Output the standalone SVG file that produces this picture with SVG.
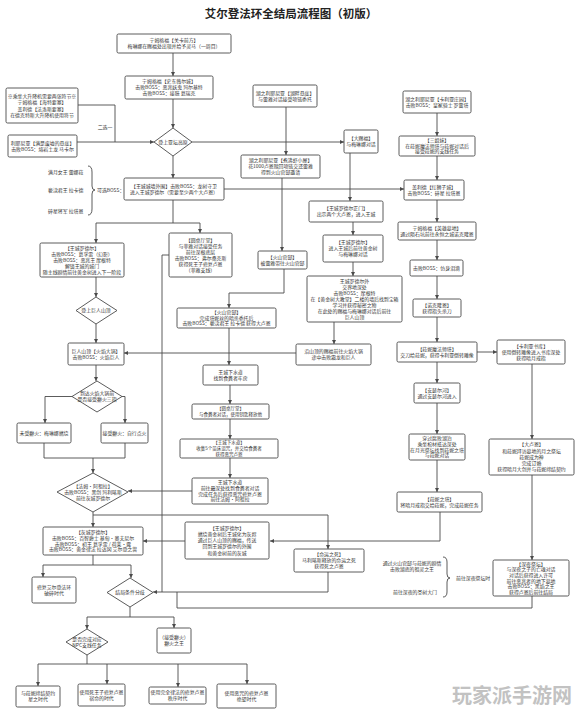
<svg xmlns="http://www.w3.org/2000/svg" width="580" height="714" viewBox="0 0 580 714">
<style>
text{font-family:"Noto Sans CJK SC","Noto Sans",sans-serif;font-size:4.9px;fill:#333;text-anchor:middle}
.n rect,.n polygon{fill:#fff;stroke:#4a4a4a;stroke-width:0.9}
#connectors path{fill:none;stroke:#4a4a4a;stroke-width:0.9}
.ar{marker-end:url(#a)}
.l{text-anchor:start}
.s{font-size:4.5px}
.title{font-size:11.5px;font-weight:bold;fill:#222}
.wm{font-size:20px;font-weight:bold;fill:#c2c2c2}
</style>
<defs>
<marker id="a" viewBox="0 0 10 10" refX="10" refY="5" markerWidth="4" markerHeight="4" markerUnits="userSpaceOnUse" orient="auto"><path d="M0,0 L10,5 L0,10 z" fill="#4a4a4a"/></marker>
</defs>
<rect width="580" height="714" fill="#fff"/>
<text class="title" x="291" y="17.5">艾尔登法环全结局流程图（初版）</text>

<g id="connectors">
<path class="ar" d="M173,53 V76"/>
<path class="ar" d="M173,99 V128"/>
<path d="M78,105 H115 V142"/>
<path class="ar" d="M77,142 H154"/>
<path class="ar" d="M192,142 H344"/>
<path class="ar" d="M173,156 V178"/>
<path class="ar" d="M224,189 H404"/>
<path d="M173,200 V223 M96,223 H200"/>
<path class="ar" d="M96,223 V243"/>
<path class="ar" d="M200,223 V233"/>
<path class="ar" d="M286,107 V155"/>
<path class="ar" d="M282,178 V251"/>
<path class="ar" d="M284,269 V293 H229 V308"/>
<path class="ar" d="M350,153 V201"/>
<path class="ar" d="M353,222 V235"/>
<path class="ar" d="M353,262 V276"/>
<path class="ar" d="M334,322 V344"/>
<path class="ar" d="M296,353 H124"/>
<path d="M169,255 H162 V592"/>
<path class="ar" d="M328,572 V592 H153"/>
<path d="M532,596 V608 H177 V592"/>
<path class="ar" d="M229,328 V365"/>
<path class="ar" d="M230,385 V404"/>
<path class="ar" d="M230,419 V439"/>
<path class="ar" d="M230,458 V478"/>
<path class="ar" d="M192,491 H128"/>
<path class="ar" d="M96,277 V297"/>
<path class="ar" d="M96,324 V343"/>
<path class="ar" d="M96,365 V381"/>
<path class="ar" d="M72,396.5 H45 V423"/>
<path class="ar" d="M122,396.5 H125 V423"/>
<path d="M44,443 V458 H125 V443"/>
<path class="ar" d="M93,458 V473"/>
<path class="ar" d="M93,512 V527"/>
<path class="ar" d="M93,515 H328 V549"/>
<path class="ar" d="M440,512 V541 H270"/>
<path class="ar" d="M185,541 H143"/>
<path d="M93,555 V565 M43,565 H131"/>
<path class="ar" d="M43,565 V577"/>
<path class="ar" d="M131,565 V578"/>
<path d="M130,607 V617 M87,617 H174"/>
<path class="ar" d="M87,617 V629"/>
<path class="ar" d="M174,617 V628"/>
<path d="M87,655 V664 M38,664 H247"/>
<path class="ar" d="M38,664 V686"/>
<path class="ar" d="M107,664 V684"/>
<path class="ar" d="M178,664 V687"/>
<path class="ar" d="M247,664 V684"/>
<path class="ar" d="M437,113 V136"/>
<path class="ar" d="M437,156 V180"/>
<path class="ar" d="M437,200 V222"/>
<path class="ar" d="M437,240 V260"/>
<path class="ar" d="M437,276 V299"/>
<path class="ar" d="M437,317 V342"/>
<path class="ar" d="M477,352 H497"/>
<path class="ar" d="M437,362 V383"/>
<path class="ar" d="M437,403 V434"/>
<path class="ar" d="M437,460 V492"/>
<path class="ar" d="M532,364 V439"/>
<path class="ar" d="M532,475 V560"/>
<path d="M88,166 Q92,166 92,172 L92,186 Q92,190 95,190 Q92,190 92,194 L92,209 Q92,215 88,215"/>
<path d="M443,557 Q447,557 447,562 L447,574 Q447,578 450,578 Q447,578 447,582 L447,592 Q447,597 443,597"/>
</g>

<g id="labels">
<text x="105" y="129">二选一</text>
<text class="l" x="48" y="174">满月女王 蕾娜菈</text>
<text class="l" x="48" y="192">亵渎君王 拉卡德</text>
<text class="l" x="48" y="213">碎星将军 拉塔恩</text>
<text class="l" x="97" y="192">可选BOSS：</text>
<text x="412" y="565">通过火山官邸与菈妮的剧情</text>
<text x="412" y="571">击败湖底的祖灵之王</text>
<text x="415" y="594">前往深夜的圣树大门</text>
<text class="l" x="456" y="580">前往深夜祭坛时</text>
</g>

<g id="nA" class="n"><rect x="117" y="34" width="114" height="19" rx="1.5"/>
<text x="174" y="42.1">宁姆格福【关卡前方】</text><text x="174" y="48.3">梅琳娜在赐福处出现并给予灵马（一周目）</text></g>
<g id="nB" class="n"><rect x="125" y="76" width="88" height="23" rx="1.5"/>
<text x="169" y="83.2">宁姆格福【史东薇尔城】</text><text x="169" y="89.2">击败BOSS：恶兆妖鬼 玛尔基特</text><text x="169" y="95.2">击败BOSS：接肢 葛瑞克</text></g>
<g id="nC" class="n"><polygon points="173,128 192,142 173,156 154,142"/>
<text x="173" y="143.7">登上亚坛高原</text></g>
<g id="nD" class="n"><rect x="6" y="88" width="72" height="35" rx="1.5"/>
<text x="42" y="97.5">※乘坐大升降机需要两张符节※</text><text x="42" y="104">宁姆格福【海特要塞】</text><text x="42" y="110.5">盖利德【法洛斯要塞】</text><text x="42" y="117">在德克特斯大升降机使用符节</text></g>
<g id="nE" class="n"><rect x="8" y="135" width="69" height="22" rx="1.5"/>
<text x="42.5" y="144.6">利耶尼亚【满是废墟的悬崖】</text><text x="42.5" y="150.8">击败BOSS：熔岩土龙 马卡尔</text></g>
<g id="nF" class="n"><rect x="124" y="178" width="100" height="22" rx="1.5"/>
<text x="174" y="187.6">【王城城墙外围】击败BOSS：龙树守卫</text><text x="174" y="193.8">进入王城罗德尔（需要至少两个大卢恩）</text></g>
<g id="nG" class="n"><rect x="40" y="243" width="84" height="34" rx="1.5"/>
<text x="82" y="249.7">【王城罗德尔】</text><text x="82" y="255.7">击败BOSS：葛孚雷（幻影）</text><text x="82" y="261.7">击败BOSS：恶兆王 摩根特</text><text x="82" y="267.7">解锁王城的城门</text><text x="82" y="273.7">随主线剧情前往黄金树进入下一阶段</text></g>
<g id="nH" class="n"><polygon points="96,297 117,310.5 96,324 76,310.5"/>
<text x="96" y="312.2">登上巨人山顶</text></g>
<g id="nI" class="n"><rect x="68" y="343" width="56" height="22" rx="1.5"/>
<text x="96" y="352.6">巨人山顶【火焰大锅】</text><text x="96" y="358.8">击败BOSS：火焰巨人</text></g>
<g id="nJ" class="n"><polygon points="97,381 122,396.5 97,412 72,396.5"/>
<text x="97" y="395.2">到达火焰大锅前</text><text x="97" y="401.2">是否接受癫火三指</text></g>
<g id="nK" class="n"><rect x="17" y="423" width="54" height="20" rx="1.5"/>
<text x="44" y="434.7">未受癫火：梅琳娜燃烧</text></g>
<g id="nL" class="n"><rect x="101" y="423" width="47" height="20" rx="1.5"/>
<text x="124.5" y="434.7">接受癫火：自行点火</text></g>
<g id="nM" class="n"><polygon points="93,473 128,492 93,512 57,492"/>
<text x="93" y="487.9">【法姆·阿祖拉】</text><text x="93" y="493.7">击败BOSS：黑剑 玛利喀斯</text><text x="93" y="499.5">前往灰城罗德尔</text></g>
<g id="nN" class="n"><rect x="43" y="527" width="100" height="28" rx="1.5"/>
<text x="93" y="534">【灰城罗德尔】</text><text x="93" y="539.8">击败BOSS：百智爵士 基甸·奥夫尼尔</text><text x="93" y="545.6">击败BOSS：初王 葛孚雷 / 荷莱·露</text><text x="93" y="551.4">击败BOSS：黄金律法 拉达冈 艾尔登之兽</text></g>
<g id="nS" class="n"><rect x="32" y="577" width="44" height="26" rx="1.5"/>
<text x="54" y="588.6">修复艾尔登法环</text><text x="54" y="594.8">破碎时代</text></g>
<g id="nQ" class="n"><polygon points="130,578 153,592.5 130,607 107,592.5"/>
<text x="130" y="594.2">结局条件分歧</text></g>
<g id="nT" class="n"><polygon points="87,629 108,642 87,655 66,642"/>
<text x="87" y="640.9">是否完成对应</text><text x="87" y="646.5">NPC支线任务</text></g>
<g id="nU" class="n"><rect x="157" y="628" width="34" height="25" rx="1.5"/>
<text x="174" y="639.1">（接受癫火）</text><text x="174" y="645.3">癫火之王</text></g>
<g id="nV1" class="n"><rect x="16" y="686" width="44" height="21" rx="1.5"/>
<text x="38" y="695.1">与菈妮缔结契约</text><text x="38" y="701.3">星之时代</text></g>
<g id="nV2" class="n"><rect x="78" y="684" width="47" height="22" rx="1.5"/>
<text x="101.5" y="693.6">使用死王子修复卢恩</text><text x="101.5" y="699.8">宿命的时代</text></g>
<g id="nV3" class="n"><rect x="149" y="687" width="57" height="17" rx="1.5"/>
<text x="177.5" y="694.1">使用完全律法的修复卢恩</text><text x="177.5" y="700.3">秩序时代</text></g>
<g id="nV4" class="n"><rect x="217" y="684" width="59" height="24" rx="1.5"/>
<text x="246.5" y="694.6">使用恶咒的修复卢恩</text><text x="246.5" y="700.8">绝望时代</text></g>

<g id="nX1" class="n"><rect x="253" y="85" width="64" height="22" rx="1.5"/>
<text x="285" y="94.6">湖之利耶尼亚【湖畔悬崖】</text><text x="285" y="100.8">与蕾雅对话接受项链委托</text></g>
<g id="nX2" class="n"><rect x="241" y="155" width="79" height="23" rx="1.5"/>
<text x="280.5" y="162.2">湖之利耶尼亚【煮沸虾小屋】</text><text x="280.5" y="168.2">花1000卢恩赎回项链交还蕾雅</text><text x="280.5" y="174.2">得到火山官邸邀请</text></g>
<g id="nX3" class="n"><rect x="344" y="130" width="34" height="23" rx="1.5"/>
<text x="361" y="140.1">【大赐福】</text><text x="361" y="146.3">与梅琳娜对话</text></g>
<g id="nZ2" class="n"><rect x="258" y="251" width="49" height="18" rx="1.5"/>
<text x="282.5" y="258.6">【火山官邸】</text><text x="282.5" y="264.8">被蕾雅带往火山官邸</text></g>
<g id="nZ3" class="n"><rect x="169" y="233" width="63" height="44" rx="1.5"/>
<text x="200.5" y="241.7">【圆桌厅堂】</text><text x="200.5" y="247.7">与菲雅对话接受任务</text><text x="200.5" y="253.7">前往深根底层</text><text x="200.5" y="259.7">击败BOSS：弗尔桑克斯</text><text x="200.5" y="265.7">获得死王子修复卢恩</text><text x="200.5" y="271.7">（菲雅支线）</text></g>
<g id="nZ1" class="n"><rect x="177" y="308" width="99" height="20" rx="1.5"/>
<text x="226.5" y="314.1">【火山官邸】</text><text x="226.5" y="319.7">完成塔妮丝的暗杀委托后</text><text x="226.5" y="325.3">击败BOSS：亵渎君王 拉卡德 获得大卢恩</text></g>
<g id="nY1" class="n"><rect x="309" y="201" width="74" height="21" rx="1.5"/>
<text x="346" y="210.1">【王城罗德尔正门】</text><text x="346" y="216.3">出示两个大卢恩，进入王城</text></g>
<g id="nY2" class="n"><rect x="323" y="235" width="60" height="27" rx="1.5"/>
<text x="353" y="244.2">【王城罗德尔】</text><text x="353" y="250.2">进入王城后前往黄金树</text><text x="353" y="256.2">与梅琳娜对话</text></g>
<g id="nY3" class="n"><rect x="307" y="276" width="95" height="46" rx="1.5"/>
<text x="354.5" y="282.7">王城罗德尔外</text><text x="354.5" y="288.7">交界地深处</text><text x="354.5" y="294.7">击败BOSS：摩根特</text><text x="354.5" y="300.7">在【黄金树大教堂】二楼的墙后找到宝箱</text><text x="354.5" y="306.7">学习并获得秘密之物</text><text x="354.5" y="312.7">在此处的赐福与梅琳娜对话后前往</text><text x="354.5" y="318.7">巨人山顶</text></g>
<g id="nY4" class="n"><rect x="296" y="344" width="75" height="21" rx="1.5"/>
<text x="333.5" y="353.1">沿山顶的赐福前往火焰大锅</text><text x="333.5" y="359.3">途中击败霜龙和巨人</text></g>
<g id="nAA1" class="n"><rect x="203" y="365" width="55" height="20" rx="1.5"/>
<text x="230.5" y="373.6">王城下水道</text><text x="230.5" y="379.8">找到食粪者牢房</text></g>
<g id="nAA2" class="n"><rect x="192" y="404" width="77" height="15" rx="1.5"/>
<text class="s" x="230.5" y="410.3">【圆桌厅堂】</text><text class="s" x="230.5" y="416.1">与食粪者对话，使用钥匙释放他</text></g>
<g id="nAA3" class="n"><rect x="180" y="439" width="98" height="19" rx="1.5"/>
<text class="s" x="229" y="444.4">【王城下水道】</text><text class="s" x="229" y="450.2">收集5个苗床诅咒，并交给食粪者</text><text class="s" x="229" y="456">获得恶咒卢恩</text></g>
<g id="nAA4" class="n"><rect x="192" y="478" width="76" height="26" rx="1.5"/>
<text x="230" y="484">王城下水道</text><text x="230" y="489.8">前往最深处找到食粪者对话</text><text x="230" y="495.6">完成任务后获得恶咒修复卢恩</text><text x="230" y="501.4">前往法姆·阿祖拉</text></g>
<g id="nO" class="n"><rect x="185" y="522" width="84" height="37" rx="1.5"/>
<text x="227" y="529.8">【王城罗德尔】</text><text x="227" y="536">燃烧黄金树后王城化为灰烬</text><text x="227" y="542.2">通过巨人山顶的赐福，传送</text><text x="227" y="548.4">回到王城罗德尔的外围</text><text x="227" y="554.6">和黄金树前的灰城</text></g>
<g id="nP" class="n"><rect x="294" y="549" width="70" height="23" rx="1.5"/>
<text x="329" y="556.2">【命运之死】</text><text x="329" y="562.2">马利喀斯释放的命运之死</text><text x="329" y="568.2">获得死之卢恩</text></g>

<g id="nR1" class="n"><rect x="403" y="91" width="68" height="22" rx="1.5"/>
<text x="437" y="100.6">湖之利耶尼亚【卡利亚庄园】</text><text x="437" y="106.8">击败BOSS：皇家骑士 罗蕾塔</text></g>
<g id="nR2" class="n"><rect x="399" y="136" width="76" height="20" rx="1.5"/>
<text x="437" y="142.1">【三姐妹】</text><text x="437" y="147.7">在菈妮魔法师塔与菈妮对话后</text><text x="437" y="153.3">接受菈妮的支线任务</text></g>
<g id="nR3" class="n"><rect x="404" y="180" width="60" height="20" rx="1.5"/>
<text x="434" y="188.6">盖利德【红狮子城】</text><text x="434" y="194.8">击败BOSS：碎星 拉塔恩</text></g>
<g id="nR4" class="n"><rect x="398" y="222" width="78" height="18" rx="1.5"/>
<text x="437" y="229.6">宁姆格福【英雄墓地】</text><text x="437" y="235.8">通过陨石坑前往永恒之城诺克隆恩</text></g>
<g id="nR5" class="n"><rect x="410" y="260" width="53" height="16" rx="1.5"/>
<text x="436.5" y="269.7">击败BOSS：仿身泪滴</text></g>
<g id="nR6" class="n"><rect x="413" y="299" width="48" height="18" rx="1.5"/>
<text x="437" y="306.6">【诺克隆恩】</text><text x="437" y="312.8">获得指头杀刀</text></g>
<g id="nR7" class="n"><rect x="397" y="342" width="80" height="20" rx="1.5"/>
<text x="437" y="350.6">【菈妮魔法师塔】</text><text x="437" y="356.8">交刀给菈妮，获得卡利亚倒转雕像</text></g>
<g id="nR8" class="n"><rect x="497" y="340" width="68" height="24" rx="1.5"/>
<text x="531" y="347.9">【卡利亚书库】</text><text x="531" y="353.7">使用倒转雕像进入书库深处</text><text x="531" y="359.5">获得暗月戒指</text></g>
<g id="nR9" class="n"><rect x="414" y="383" width="46" height="20" rx="1.5"/>
<text x="437" y="391.6">【安瑟尔河】</text><text x="437" y="397.8">通过安瑟尔河进入</text></g>
<g id="nR10" class="n"><rect x="409" y="434" width="56" height="26" rx="1.5"/>
<text x="437" y="440">穿过腐败湖泊</text><text x="437" y="445.8">乘坐棺材抵达深处</text><text x="437" y="451.6">在月光祭坛找到菈妮之塔</text><text x="437" y="457.4">与菈妮对话</text></g>
<g id="nR11" class="n"><rect x="397" y="492" width="85" height="20" rx="1.5"/>
<text x="439.5" y="500.6">【菈妮之塔】</text><text x="439.5" y="506.8">将暗月戒指交给菈妮，完成菈妮任务</text></g>
<g id="nR12" class="n"><rect x="489" y="439" width="85" height="36" rx="1.5"/>
<text x="531.5" y="446.3">【大卢恩】</text><text x="531.5" y="452.5">和菈妮拜访墓地的月之祭坛</text><text x="531.5" y="458.7">菈妮成为神</text><text x="531.5" y="464.9">完成订婚</text><text x="531.5" y="471.1">获得暗月大剑并与菈妮缔结契约</text></g>
<g id="nR13" class="n"><rect x="493" y="560" width="76" height="36" rx="1.5"/>
<text x="531" y="565.7">【深夜祭坛】</text><text x="531" y="571.3">与深夜之子的亡魂对话</text><text x="531" y="576.9">对话后获得进入许可</text><text x="531" y="582.5">前往恶兆者的地下墓地</text><text x="531" y="588.1">击败BOSS：黑焰之王</text><text x="531" y="593.7">获得卢恩后前往结局</text></g>

<text class="wm" x="512" y="703">玩家派手游网</text>
</svg>
